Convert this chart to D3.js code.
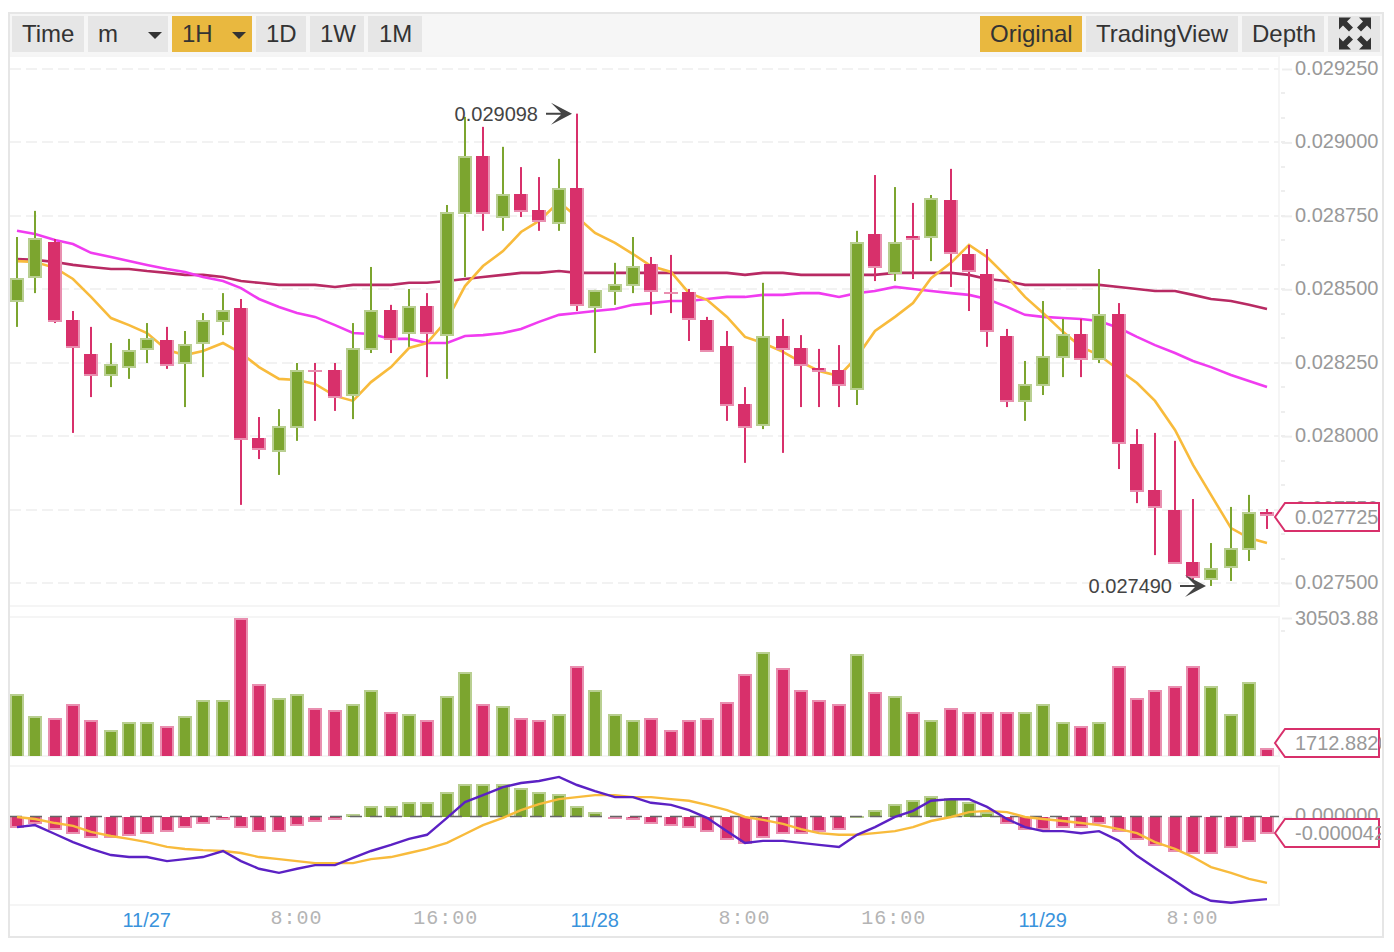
<!DOCTYPE html>
<html lang="en">
<head>
<meta charset="UTF-8">
<title>Candlestick chart</title>
<script src="https://d3js.org/d3.v7.min.js"></script>
<style>
    html, body { margin: 0; padding: 0; background: #fff; overflow: hidden; }
    svg { display: block; font-family: "Liberation Sans", Arial, sans-serif; }
    .btn { font-size: 24px; fill: #333; }
    .tick-label { font-size: 20px; fill: #999; }
    .note { font-size: 20px; fill: #444; }
    .axis path { display: none; }
    .axis line { stroke: #eee; stroke-width: 2; }
    .axis text { font-size: 20px; fill: #999; font-family: "Liberation Sans", Arial, sans-serif; }
    .hours text { font-family: "Liberation Mono", monospace; fill: #b4b4b4; letter-spacing: 1px; }
    .dates text { fill: #3a93dc; }
</style>
</head>
<body>
<svg id="chart" width="1394" height="952"></svg>
<script>
// prices are in millionths, 28538 means 0.028538
const opens = [28460,28538,28664,28395,28280,28205,28232,28293,28327,28246,28314,28389,28436,27994,27946,28028,28225,28225,28137,28293,28430,28348,28443,28341,28756,28954,28743,28825,28770,28722,28845,28436,28491,28511,28586,28491,28491,28395,28307,28110,28035,28341,28300,28232,28225,28157,28688,28552,28682,28675,28804,28620,28552,28341,28116,28171,28266,28348,28259,28416,27973,27817,27749,27572,27510,27551,27612,27742];
const closes = [28538,28675,28389,28300,28205,28246,28293,28334,28239,28314,28395,28430,27987,27953,28035,28225,28218,28130,28300,28430,28327,28443,28348,28763,28954,28756,28825,28763,28729,28845,28443,28498,28518,28579,28491,28484,28395,28287,28103,28028,28341,28293,28239,28218,28171,28661,28573,28661,28668,28811,28620,28559,28355,28116,28178,28273,28348,28259,28416,27973,27810,27755,27565,27517,27551,27619,27742,27725];
const highs = [28678,28767,28671,28426,28372,28317,28331,28385,28372,28358,28419,28487,28467,28065,28092,28249,28249,28249,28385,28576,28447,28501,28487,28787,29087,29053,28985,28916,28882,28944,29098,28498,28590,28678,28610,28617,28501,28406,28358,28167,28522,28399,28344,28297,28310,28699,28889,28848,28794,28821,28910,28651,28637,28365,28256,28460,28399,28399,28569,28453,28024,28011,27984,27786,27636,27759,27800,27752];
const lows = [28372,28487,28385,28011,28133,28167,28195,28249,28229,28099,28201,28344,27766,27922,27868,27984,28052,28086,28058,28283,28283,28304,28201,28195,28542,28699,28699,28746,28699,28699,28426,28283,28447,28487,28413,28419,28324,28287,28052,27909,28024,27943,28099,28099,28099,28106,28528,28528,28535,28596,28508,28426,28304,28099,28052,28140,28201,28201,28249,27888,27772,27595,27565,27503,27490,27507,27575,27684];

// moving averages
const ma7 = [28596,28593,28573,28535,28474,28402,28378,28351,28293,28276,28290,28317,28283,28235,28195,28191,28178,28137,28120,28184,28235,28300,28317,28395,28511,28579,28630,28695,28733,28797,28746,28692,28658,28620,28579,28559,28487,28464,28406,28338,28317,28287,28252,28222,28205,28270,28358,28406,28453,28538,28590,28651,28610,28542,28474,28419,28355,28304,28276,28225,28181,28120,28021,27902,27800,27687,27653,27636];
const ma25 = [28699,28688,28668,28654,28624,28610,28596,28583,28569,28559,28542,28528,28504,28467,28440,28419,28406,28378,28351,28348,28331,28331,28317,28317,28341,28344,28351,28365,28389,28413,28419,28426,28433,28447,28453,28460,28460,28467,28474,28474,28481,28481,28487,28487,28474,28487,28494,28508,28501,28494,28487,28481,28467,28440,28413,28406,28402,28399,28392,28368,28338,28310,28283,28256,28235,28208,28188,28167];
const ma99 = [28603,28600,28593,28583,28576,28569,28569,28562,28556,28549,28549,28542,28528,28522,28515,28515,28515,28508,28515,28515,28515,28522,28522,28528,28535,28542,28549,28556,28556,28562,28556,28556,28556,28556,28556,28556,28556,28556,28556,28549,28556,28556,28549,28549,28549,28549,28549,28556,28556,28556,28556,28549,28535,28528,28515,28515,28515,28515,28515,28508,28501,28494,28494,28481,28467,28460,28447,28433];

const volumes = [13705,8842,8400,11494,7957,5747,7515,7515,6631,8842,12378,12378,30503.88,15915,12820,13705,10610,10168,11494,14589,9726,9284,7957,13262,18567,11494,11052,8400,7957,9284,19894,14589,9284,7957,8400,5747,7957,8400,11936,18125,22988,19452,14589,12378,11494,22546,14147,13262,9726,7957,10610,9726,9726,9726,9726,11494,7515,6631,7515,19894,12820,14589,15473,19894,15473,9284,16357,1712.882];

// MACD, also in millionths
const macdHist = [-27,-17,-32,-42,-52,-52,-47,-42,-37,-27,-17,-7,-27,-37,-37,-22,-12,-7,7,27,27,37,37,62,82,82,82,72,62,57,27,12,-2,-7,-17,-22,-27,-37,-57,-67,-52,-42,-42,-37,-32,2,17,32,42,52,47,37,12,-17,-32,-32,-27,-27,-17,-37,-57,-72,-86,-91,-91,-77,-62,-42];
const macdDif = [-25,-20,-42,-62,-79,-94,-99,-99,-109,-104,-99,-84,-109,-128,-138,-128,-119,-119,-101,-84,-69,-54,-44,-2,37,54,74,84,89,99,79,64,49,49,35,30,17,-2,-35,-64,-59,-59,-64,-69,-74,-44,-25,0,15,40,44,44,25,-5,-25,-35,-35,-40,-35,-59,-96,-126,-158,-188,-207,-212,-207,-203];
const macdDea = [0,-5,-15,-22,-37,-47,-54,-62,-74,-79,-82,-84,-89,-99,-104,-109,-114,-114,-114,-104,-99,-89,-79,-64,-42,-20,-2,17,32,44,49,54,54,49,49,44,40,30,17,0,-7,-17,-30,-40,-44,-44,-40,-35,-25,-10,0,12,15,12,0,-5,-10,-15,-20,-30,-40,-62,-79,-99,-124,-138,-153,-163];

const priceTicks = [29250,29000,28750,28500,28250,28000,27750,27500];
const hourTicks = [15,23,39,47,63];
const hourLabels = ["8:00","16:00","8:00","16:00","8:00"];
const dateTicks = [7,31,55];
const dateLabels = ["11/27","11/28","11/29"];

const GREEN = "#7ca52f", GREEN_LIGHT = "#b9cf91", PINK = "#d8306b", PINK_LIGHT = "#e98fb0";
const YELLOW = "#f8bb3c", BUTTON = "#e6e6e6", ACTIVE = "#e9b83f";

const svg = d3.select("#chart");
const idx = d3.range(opens.length);

// scales
const xRaw = d3.scaleLinear().domain([0, 24]).range([17, 465]);
const x = i => Math.round((xRaw(i) - 1) / 2) * 2 + 1;   // candles sit on a 2px grid
const yPrice = d3.scaleLinear().domain([27500, 29250]).range([583, 69]);
const yVol = d3.scaleLinear().domain([0, 30503.88]).range([756, 618]);
const yMacd = d3.scaleLinear().domain([-215, 123.5]).range([904, 767]);
const snap = v => Math.round(v / 2) * 2;

// frame and toolbar
svg.append("rect").attr("x", 9).attr("y", 13).attr("width", 1374).attr("height", 924)
    .attr("fill", "#fff").attr("stroke", "#e6e6e6").attr("stroke-width", 2);
svg.append("rect").attr("x", 10).attr("y", 14).attr("width", 1372).attr("height", 42).attr("fill", "#f6f6f6");

const buttons = [
    {t: "Time", x: 12, w: 72, tx: 22},
    {t: "m", x: 88, w: 80, tx: 98, caret: 155},
    {t: "1H", x: 172, w: 80, tx: 182, caret: 239, on: true},
    {t: "1D", x: 256, w: 50, tx: 266},
    {t: "1W", x: 310, w: 54, tx: 320},
    {t: "1M", x: 368, w: 54, tx: 379},
    {t: "Original", x: 980, w: 102, tx: 990, on: true},
    {t: "TradingView", x: 1086, w: 152, tx: 1096},
    {t: "Depth", x: 1242, w: 82, tx: 1252}
];
const btn = svg.append("g").selectAll("g").data(buttons).enter().append("g");
btn.append("rect").attr("x", d => d.x).attr("y", 16).attr("width", d => d.w).attr("height", 36)
    .attr("fill", d => d.on ? ACTIVE : BUTTON);
btn.append("text").attr("class", "btn").attr("x", d => d.tx).attr("y", 42).text(d => d.t);
btn.filter(d => d.caret).append("path")
    .attr("d", d => `M${d.caret - 7},32 h14 l-7,7 z`).attr("fill", "#333");

// fullscreen button
svg.append("rect").attr("x", 1328).attr("y", 16).attr("width", 52).attr("height", 36).attr("fill", BUTTON);
const icon = svg.append("g").attr("transform", "translate(1355,33.5)").attr("fill", "#333");
[[1, 1], [-1, 1], [1, -1], [-1, -1]].forEach(s => {
    icon.append("path").attr("transform", `scale(${s[0]},${s[1]})`)
        .attr("d", "M16,16 L4,16 L8,12 L2,6 L6,2 L12,8 L16,4 Z");
});

// panel outlines
const panel = svg.append("g").attr("fill", "none").attr("stroke", "#f5f5f5").attr("stroke-width", 2);
[[56, 606], [617, 756], [766, 905]].forEach(p => {
    panel.append("path").attr("d", `M10,${p[0]} H1279 V${p[1]} H10`);
});

// price grid
svg.append("g").selectAll("line").data(priceTicks).enter().append("line")
    .attr("x1", 10).attr("x2", 1279)
    .attr("y1", d => Math.round(yPrice(d))).attr("y2", d => Math.round(yPrice(d)))
    .attr("stroke", "#f2f2f2").attr("stroke-width", 2).attr("stroke-dasharray", "11 5");

// minor ticks, three to every price step
svg.append("g").selectAll("line").data(d3.range(27500, 29250, 250 / 3)).enter().append("line")
    .attr("x1", 1281).attr("x2", 1285)
    .attr("y1", d => Math.round(yPrice(d))).attr("y2", d => Math.round(yPrice(d)))
    .attr("stroke", "#eee").attr("stroke-width", 2);

// price axis
svg.append("g").attr("class", "axis").attr("transform", "translate(1282,0)")
    .call(d3.axisRight(yPrice).tickValues(priceTicks).tickSize(10).tickPadding(3)
        .tickFormat(d => (d / 1e6).toFixed(6)))
    .selectAll("text").attr("dy", "0.27em");

// moving averages sit behind the candles
const line = data => d3.line().x((d, i) => x(i)).y(d => yPrice(d))(data);
[[ma99, "#b82a63"], [ma25, "#f03cf0"], [ma7, YELLOW]].forEach(s => {
    svg.append("path").attr("d", line(s[0])).attr("fill", "none")
        .attr("stroke", s[1]).attr("stroke-width", 2.6);
});

// candles
const up = i => closes[i] >= opens[i];
const candle = svg.append("g").selectAll("g").data(idx).enter().append("g");
candle.append("rect").attr("x", i => x(i) - 1).attr("width", 2)
    .attr("y", i => yPrice(highs[i]))
    .attr("height", i => yPrice(lows[i]) - yPrice(highs[i]))
    .attr("fill", i => up(i) ? GREEN : PINK);
const bodyTop = i => snap(yPrice(Math.max(opens[i], closes[i])));
const bodyBottom = i => Math.max(snap(yPrice(Math.min(opens[i], closes[i]))), bodyTop(i) + 2);
candle.append("rect").attr("x", i => x(i) - 7).attr("width", 14)
    .attr("y", bodyTop).attr("height", i => bodyBottom(i) - bodyTop(i))
    .attr("fill", i => up(i) ? GREEN_LIGHT : PINK_LIGHT);
candle.append("rect")
    .attr("x", i => up(i) ? x(i) - 5 : x(i) - 7)
    .attr("width", i => up(i) ? 10 : 12)
    .attr("y", i => up(i) ? bodyTop(i) + 2 : bodyTop(i))
    .attr("height", i => Math.max(0, bodyBottom(i) - bodyTop(i) - (up(i) ? 4 : 2)))
    .attr("fill", i => up(i) ? GREEN : PINK);

// high and low notes
const arrow = (tip, y) => `M${tip - 26},${y - 1} H${tip - 11} L${tip - 21},${y - 11} L${tip},${y} L${tip - 21},${y + 11} L${tip - 11},${y + 1} H${tip - 26} Z`;
[[30, 29098, 5], [64, 27490, 5]].forEach(n => {
    const tip = x(n[0]) - n[2], y = yPrice(n[1]);
    svg.append("path").attr("d", arrow(tip, y)).attr("fill", "#444");
    svg.append("text").attr("class", "note").attr("x", tip - 34).attr("y", y + 7)
        .attr("text-anchor", "end").text((n[1] / 1e6).toFixed(6));
});

// volume bars
const bars = (g, top, bottom, green) => {
    g.append("rect").attr("x", i => x(i) - 7).attr("width", 14)
        .attr("y", top).attr("height", i => Math.max(bottom(i) - top(i), 2))
        .attr("fill", i => green(i) ? GREEN_LIGHT : PINK_LIGHT);
};
const volG = svg.append("g").selectAll("g").data(idx).enter().append("g");
const volTop = i => snap(yVol(volumes[i]));
bars(volG, volTop, () => 756, up);
volG.append("rect").attr("x", i => x(i) - 5).attr("width", 10)
    .attr("y", i => volTop(i) + 2).attr("height", i => 756 - volTop(i) - 2)
    .attr("fill", i => up(i) ? GREEN : PINK);

svg.append("g").attr("class", "axis").attr("transform", "translate(1282,0)")
    .call(d3.axisRight(yVol).tickValues([30503.88]).tickSize(10).tickPadding(3).tickFormat(d3.format(".2f")));
svg.append("line").attr("x1", 1281).attr("x2", 1285).attr("y1", 631).attr("y2", 631)
    .attr("stroke", "#eee").attr("stroke-width", 2);

// MACD histogram
const zero = yMacd(0);
const histG = svg.append("g").selectAll("g").data(idx).enter().append("g");
const histTop = i => macdHist[i] > 0 ? snap(yMacd(macdHist[i])) : 817;
const histBottom = i => macdHist[i] > 0 ? 817 : snap(yMacd(macdHist[i]));
bars(histG, histTop, histBottom, i => macdHist[i] > 0);
histG.append("rect").attr("x", i => x(i) - 5).attr("width", 10)
    .attr("y", i => macdHist[i] > 0 ? histTop(i) + 2 : 817)
    .attr("height", i => Math.max(0, histBottom(i) - histTop(i) - 2))
    .attr("fill", i => macdHist[i] > 0 ? GREEN : PINK);

svg.append("line").attr("x1", 10).attr("x2", 1279).attr("y1", zero - 0.5).attr("y2", zero - 0.5)
    .attr("stroke", "#666").attr("stroke-width", 1.6).attr("stroke-dasharray", "12 8");

const macdLine = d3.line().x((d, i) => x(i)).y(d => yMacd(d));
svg.append("path").attr("d", macdLine(macdDea)).attr("fill", "none").attr("stroke", YELLOW).attr("stroke-width", 2.4);
svg.append("path").attr("d", macdLine(macdDif)).attr("fill", "none").attr("stroke", "#5b21c4").attr("stroke-width", 2.4);

svg.append("g").attr("class", "axis").attr("transform", "translate(1282,0)")
    .call(d3.axisRight(yMacd).tickValues([0]).tickSize(10).tickPadding(3).tickFormat(d => d.toFixed(6)))
    .selectAll("text").attr("dy", "0.22em");

// time axis
svg.append("g").attr("class", "axis hours").attr("transform", "translate(-1,905)")
    .call(d3.axisBottom(xRaw).tickValues(hourTicks).tickSize(0).tickPadding(5)
        .tickFormat(d => hourLabels[hourTicks.indexOf(d)]));
svg.append("g").attr("class", "axis dates").attr("transform", "translate(-1.5,906)")
    .call(d3.axisBottom(xRaw).tickValues(dateTicks).tickSize(0).tickPadding(7)
        .tickFormat(d => dateLabels[dateTicks.indexOf(d)]));

// last value tags
svg.append("defs").append("clipPath").attr("id", "tagClip").append("rect")
    .attr("x", 1280).attr("y", 490).attr("width", 101).attr("height", 400);
const lastTags = [
    {y: 517, text: (closes[67] / 1e6).toFixed(6)},
    {y: 743, text: volumes[67].toFixed(4)},
    {y: 833, text: (macdHist[67] / 1e6).toFixed(6)}
];
const tag = svg.append("g").selectAll("g").data(lastTags).enter().append("g");
tag.append("path")
    .attr("d", d => `M1275,${d.y} L1285,${d.y - 14} H1379 V${d.y + 14} H1285 Z`)
    .attr("fill", "#fff").attr("stroke", PINK).attr("stroke-width", 2);
tag.append("text").attr("class", "tick-label").attr("x", 1295).attr("y", d => d.y + 7)
    .attr("clip-path", "url(#tagClip)").text(d => d.text);
</script>
</body>
</html>
